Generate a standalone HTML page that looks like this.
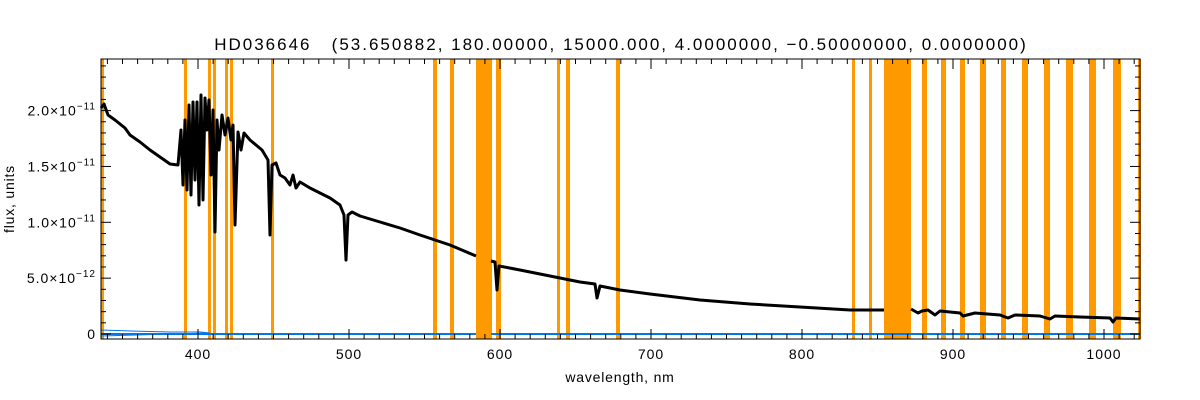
<!DOCTYPE html>
<html><head><meta charset="utf-8"><style>
html,body{margin:0;padding:0;background:#fff;}
svg{display:block;font-family:"Liberation Sans",sans-serif;}
</style></head><body>
<svg id="s" width="1200" height="400" viewBox="0 0 1200 400" xmlns="http://www.w3.org/2000/svg">
<rect width="1200" height="400" fill="#fff"/>
<g id="bands" fill="#ff9900"></g>
<polyline fill="none" stroke="#0077ee" stroke-width="2" points="101,334 476,334"/>
<polyline fill="none" stroke="#0077ee" stroke-width="2" points="491,334 1140,334"/>
<polyline fill="none" stroke="#0077ee" stroke-width="1" points="101,330 130,331 170,332 200,332 210,333 101,336"/>
<polyline fill="none" stroke="#000" stroke-width="3" stroke-linejoin="round" points="101,108 104,104 108,115 115,120 125,128 130,135 140,142 150,150 160,157 170,164 178,165 181,130 183,185 185,120 187,190 189,105 191,195 193,102 195,180 197,102 199,205 201,95 203,200 205,98 207,130 209,100 211,175 213,110 215,232 217,120 219,150 222,115 225,135 228,118 231,140 233,125 235,225 238,132 241,150 244,133 250,140 256,145 262,150 268,160 270,235 272,165 276,163 280,175 285,178 290,185 293,175 296,188 300,182 310,188 320,193 330,198 340,205 344,215 346,260 348,215 352,212 360,216 380,222 400,228 420,235 450,245 476,256"/>
<polyline fill="none" stroke="#000" stroke-width="3" stroke-linejoin="round" points="491,261 495,262 497,290 499,266 520,270 560,278 580,282 595,284 597,298 600,286 620,290 650,294 700,300 750,304 800,307 850,310 884,310"/>
<polyline fill="none" stroke="#000" stroke-width="3" stroke-linejoin="round" points="911,309 918,313 922,311 928,310 935,315 940,311 960,313 963,316 975,313 1000,315 1008,318 1015,315 1040,316 1050,319 1055,316 1080,317 1110,318 1113,322 1116,318 1140,319"/>
<rect x="101" y="59" width="1039" height="280" fill="none" stroke="#000" stroke-width="1"/>
<g id="ticks" stroke="#000" stroke-width="1"></g>
<g id="labels" font-size="14" fill="#000" letter-spacing="1"></g>
<text x="621" y="50" font-size="17" letter-spacing="2" text-anchor="middle" xml:space="preserve">HD036646   (53.650882, 180.00000, 15000.000, 4.0000000, −0.50000000, 0.0000000)</text>
<text x="620" y="382" font-size="14" letter-spacing="0.8" text-anchor="middle">wavelength, nm</text>
<text x="14" y="199" font-size="14" letter-spacing="0.8" text-anchor="middle" transform="rotate(-90 14 199)">flux, units</text>
</svg>
<script>
var NS="http://www.w3.org/2000/svg";
function el(p,t,a,txt){var e=document.createElementNS(NS,t);for(var k in a)e.setAttribute(k,a[k]);if(txt)e.innerHTML=txt;document.getElementById(p).appendChild(e);}
var bands=[[101,104],[184,187],[208,211],[213,216],[225,228],[230,233],[271,274],[433,437],[450,454],[476,492],[496,501],[557,560],[566,570],[616,620],[852,855],[869,872],[884,911],[922,927],[941,946],[960,965],[980,986],[1001,1006],[1022,1028],[1044,1050],[1066,1073],[1089,1096],[1113,1121],[1138,1141]];
bands.forEach(function(b){el("bands","rect",{x:b[0],y:59,width:b[1]-b[0],height:280});});
function X(l){return 953+(l-900)*1.51;}
for(var l=340;l<=1020;l+=10){var x=X(l);var M=(l%100==0);var L=M?10:5;
 el("ticks","line",{x1:x,y1:339,x2:x,y2:339-L});el("ticks","line",{x1:x,y1:59,x2:x,y2:59+L});
 if(M)el("labels","text",{x:x,y:359,"text-anchor":"middle"},String(l));}
for(var i=0;i<=24;i++){var y=334-i*11.17;var M=(i%5==0);var L=M?10:5;
 el("ticks","line",{x1:101,y1:y,x2:101+L,y2:y});el("ticks","line",{x1:1140,y1:y,x2:1140-L,y2:y});}
var lab=["0","5.0×10<tspan dy='-6' font-size='10'>−12</tspan>","1.0×10<tspan dy='-6' font-size='10'>−11</tspan>","1.5×10<tspan dy='-6' font-size='10'>−11</tspan>","2.0×10<tspan dy='-6' font-size='10'>−11</tspan>"];
for(var j=0;j<5;j++){el("labels","text",{x:96,y:334-j*55.85+5,"text-anchor":"end"},lab[j]);}
</script>
</body></html>
